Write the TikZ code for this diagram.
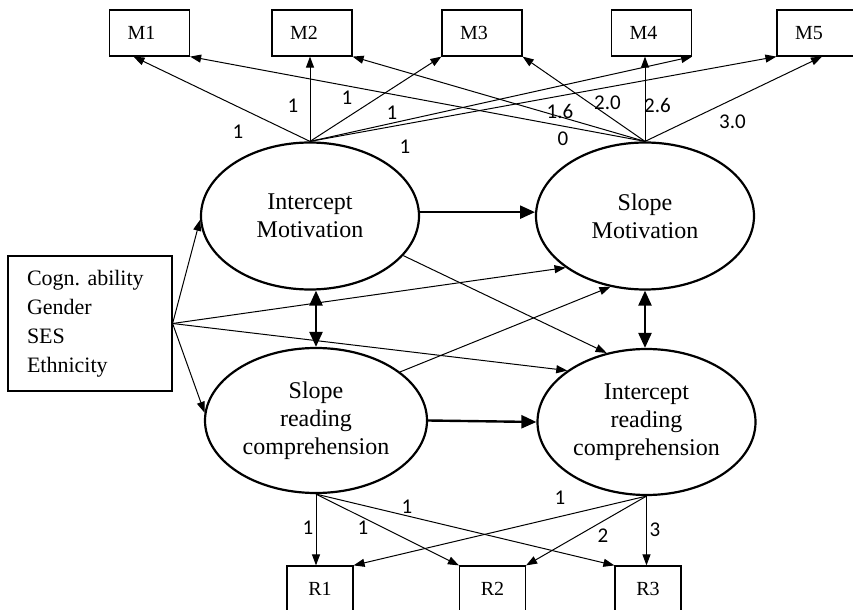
\documentclass[tikz,border=0pt]{standalone}
\usepackage{fontspec}
\setmainfont{Liberation Serif}
\newfontfamily\numfont{Carlito}
\usetikzlibrary{shapes.geometric,arrows.meta}

\begin{document}
\begin{tikzpicture}[x=0.5pt,y=-0.5pt,->,>={Triangle[length=5.5pt,width=4pt]},line width=0.5pt,
		latent/.style={ellipse,draw,line width=1.1pt,minimum width=109pt,minimum height=73.5pt,inner sep=0,align=center,font=\fontsize{12}{14}\selectfont},
		mbox/.style={rectangle,draw,line width=0.6pt,minimum height=23pt,text width=22pt,inner xsep=9pt,inner ysep=0,align=left,font=\fontsize{10}{12}\selectfont},
		rbox/.style={rectangle,draw,line width=0.6pt,minimum width=33pt,minimum height=23pt,inner sep=0,font=\fontsize{10}{12}\selectfont},
		strong/.style={line width=1.2pt,>={Triangle[length=7.5pt,width=6.5pt]}},
		load/.style={inner sep=0,font=\numfont\fontsize{10.5}{12}\selectfont}]
		\useasboundingbox (0,0) rectangle (853,610);
		\node[mbox] (m1) at (149.5,33) {M1};
		\node[mbox] (m2) at (312,33) {M2};
		\node[mbox] (m3) at (482,33) {M3};
		\node[mbox] (m4) at (651.5,33) {M4};
		\node[mbox] (m5) at (817,33) {M5};
		\node[latent] (im) at (310,216) {Intercept\\Motivation};
		\node[latent] (sm) at (645,216) {Slope\\Motivation};
		\node[latent,minimum width=111pt,minimum height=72.5pt] (src) at (316,420.5) {Slope\\reading\\comprehension};
		\node[latent,minimum height=73pt] (irc) at (646.5,422) {Intercept\\reading\\comprehension};
		\node[rectangle,draw,line width=0.6pt,text width=63pt,inner xsep=9.5pt,minimum height=67.5pt,align=left,
			font=\fontsize{11}{14.5}\selectfont] (cov) at (90,323.5) {Cogn.\ ability\\Gender\\SES\\Ethnicity};
		\node[rbox] (r1) at (320,589) {R1};
		\node[rbox] (r2) at (492.5,589) {R2};
		\node[rbox] (r3) at (648,589) {R3};
		% loadings of the motivation measures
		\draw (im.north) -- ([xshift=-8pt]m1.south); \draw (im.north) -- (im.north |- m2.south);
		\draw (im.north) -- (m3.south west); \draw (im.north) -- (m4.south east);
		\draw (im.north) -- (m5.south west);
		\draw (sm.north) -- (m1.south east); \draw (sm.north) -- (m2.south east);
		\draw (sm.north) -- (m3.south east); \draw (sm.north) -- (sm.north |- m4.south);
		\draw (sm.north) -- ([xshift=2.5pt]m5.south);
		\node[load] (li1) at (238,132) {1};
		\node[load] (li2) at (293,106) {1};
		\node[load] (li3) at (347,98) {1};
		\node[load] (li4) at (392,113) {1};
		\node[load] (li5) at (405,147) {1};
		\node[load] (ls1) at (563,139) {0};
		\node[load] (ls2) at (560,111) {1.6};
		\node[load] (ls3) at (607.5,103) {2.0};
		\node[load] (ls4) at (657.5,105) {2.6};
		\node[load] (ls5) at (732.5,122) {3.0};
		% covariates and structural paths
		\draw (cov.east) -- (im.182); \draw (cov.east) -- (sm.213);
		\draw (cov.east) -- (irc.147); \draw (cov.east) -- (src.176);
		\draw (im.-23) -- (irc.120); \draw (src.30) -- (sm.244);
		\draw[strong] (im.2) -- (sm.178); \draw[strong] (src.east) -- (irc.west);
		\draw[strong,<->] (src.north |- im.south) -- (src.north);
		\draw[strong,<->] (sm.south) -- (sm.south |- irc.north);
		% loadings of the reading measures
		\draw (src.south) -- (src.south |- r1.north); \draw (src.south) -- (r2.north west);
		\draw (src.south) -- (r3.north west);
		\draw (irc.south) -- (r1.north east); \draw (irc.south) -- (r2.north east);
		\draw (irc.south) -- (irc.south |- r3.north);
		\node[load] (lr1) at (308,528) {1};
		\node[load] (lr2) at (363,528) {1};
		\node[load] (lr3) at (407,507) {1};
		\node[load] (lr4) at (560,498) {1};
		\node[load] (lr5) at (603,536) {2};
		\node[load] (lr6) at (655,530) {3};
	\end{tikzpicture}
\end{document}
